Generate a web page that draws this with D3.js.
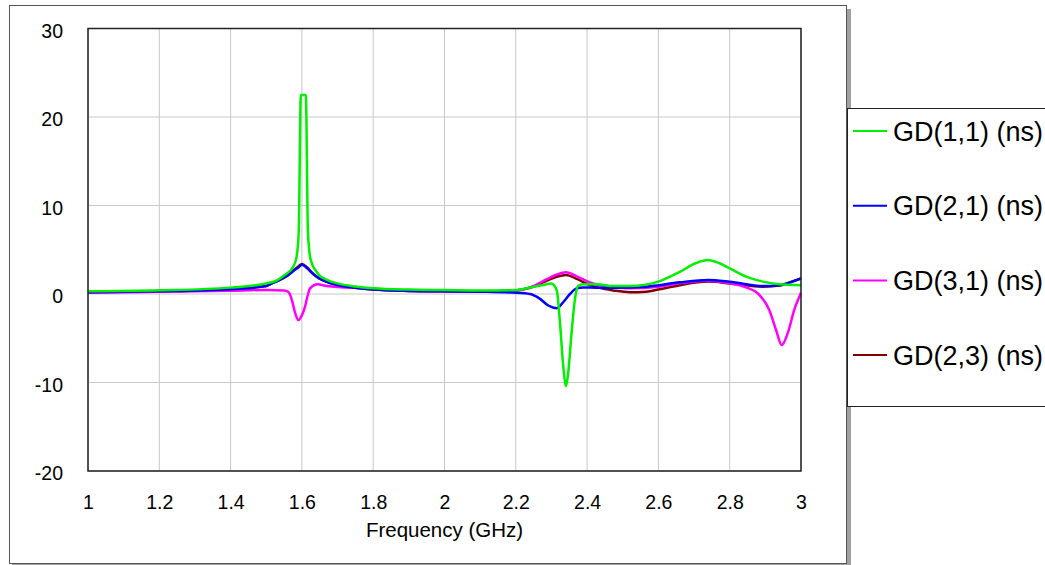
<!DOCTYPE html>
<html>
<head>
<meta charset="utf-8">
<script src="https://cdn.jsdelivr.net/npm/d3@7"></script>
<style>
  body { margin: 0; background: #fff; }
  svg { display: block; font-family: "Liberation Sans", Arial, sans-serif; }
  .grid line { stroke: #c8c8c8; stroke-width: 1; }
  .tick text { fill: #000; }
</style>
</head>
<body>
<svg width="1045" height="565"></svg>
<script>
// tick labels
var xTicks = [1, 1.2, 1.4, 1.6, 1.8, 2, 2.2, 2.4, 2.6, 2.8, 3];
var yTicks = [-20, -10, 0, 10, 20, 30];

// GD(1,1) (ns)
var f11 = [1.0, 1.2, 1.4, 1.5, 1.53, 1.55, 1.576, 1.585, 1.591, 1.597, 1.611, 1.617, 1.625, 1.645, 1.67, 1.7, 1.75, 1.8, 1.9, 2.0, 2.1, 2.2, 2.24, 2.287, 2.3, 2.315, 2.324, 2.333, 2.341, 2.347, 2.357, 2.366, 2.375, 2.389, 2.427, 2.473, 2.52, 2.6, 2.66, 2.706, 2.739, 2.77, 2.8, 2.846, 2.893, 2.94, 3.0];
var gd11 = [0.3, 0.41, 0.72, 1.2, 1.55, 2.1, 3.1, 4.2, 6.9, 22.5, 22.5, 6.9, 3.8, 2.3, 1.6, 1.2, 0.85, 0.65, 0.5, 0.45, 0.4, 0.45, 0.74, 1.1, 1.2, 0.4, -3.3, -8.1, -10.4, -8.9, -4.1, -0.55, 0.93, 1.1, 1.1, 0.9, 0.9, 1.4, 2.5, 3.5, 3.84, 3.5, 2.9, 1.96, 1.4, 1.09, 1.0];

// GD(2,1) (ns)
var f21 = [1.0, 1.2, 1.4, 1.5, 1.51, 1.538, 1.557, 1.576, 1.59, 1.6, 1.615, 1.63, 1.647, 1.675, 1.7, 1.75, 1.8, 1.9, 2.0, 2.1, 2.2, 2.24, 2.268, 2.291, 2.315, 2.333, 2.352, 2.371, 2.389, 2.427, 2.473, 2.566, 2.66, 2.739, 2.8, 2.893, 2.94, 2.977, 3.0];
var gd21 = [0.2, 0.3, 0.55, 0.9, 1.1, 1.6, 2.0, 2.6, 3.0, 3.3, 2.9, 2.3, 1.8, 1.3, 1.0, 0.7, 0.5, 0.35, 0.3, 0.26, 0.15, 0.0, -0.55, -1.3, -1.6, -0.93, 0.0, 0.63, 0.74, 0.72, 0.72, 0.83, 1.32, 1.58, 1.39, 0.9, 1.0, 1.4, 1.77];

// GD(3,1) (ns)
var f31 = [1.0, 1.2, 1.4, 1.5, 1.55, 1.563, 1.572, 1.58, 1.59, 1.6, 1.609, 1.616, 1.623, 1.644, 1.67, 1.77, 1.9, 2.0, 2.1, 2.2, 2.24, 2.287, 2.315, 2.341, 2.371, 2.408, 2.473, 2.52, 2.6, 2.66, 2.739, 2.8, 2.846, 2.883, 2.911, 2.93, 2.946, 2.963, 2.981, 3.0];
var gd31 = [0.15, 0.25, 0.38, 0.45, 0.4, 0.2, -0.7, -2.0, -2.95, -2.4, -1.4, -0.2, 0.64, 1.1, 0.9, 0.64, 0.4, 0.3, 0.3, 0.4, 0.74, 1.67, 2.2, 2.45, 2.0, 1.3, 0.8, 0.64, 0.83, 1.2, 1.5, 1.2, 0.75, -0.1, -1.8, -4.07, -5.76, -4.4, -1.8, 0.15];

// GD(2,3) (ns)
var f23 = [1.0, 1.2, 1.4, 1.5, 1.51, 1.538, 1.557, 1.576, 1.59, 1.6, 1.615, 1.63, 1.647, 1.675, 1.7, 1.75, 1.8, 1.9, 2.0, 2.1, 2.2, 2.24, 2.287, 2.315, 2.341, 2.371, 2.408, 2.45, 2.473, 2.52, 2.566, 2.6, 2.66, 2.739, 2.8, 2.893, 2.94, 2.977, 3.0];
var gd23 = [0.2, 0.3, 0.55, 0.9, 1.1, 1.6, 2.05, 2.65, 3.1, 3.4, 3.0, 2.35, 1.8, 1.3, 1.0, 0.7, 0.5, 0.35, 0.3, 0.3, 0.4, 0.7, 1.5, 1.95, 2.15, 1.7, 1.0, 0.55, 0.4, 0.2, 0.26, 0.5, 1.0, 1.4, 1.2, 0.83, 0.95, 1.45, 1.75];

var names = ["GD(1,1) (ns)", "GD(2,1) (ns)", "GD(3,1) (ns)", "GD(2,3) (ns)"];
var colors = ["#00f000", "#0000ff", "#ff00ff", "#800000"];

var svg = d3.select("svg");

var x = d3.scaleLinear().domain([1, 3]).range([88, 801]);
var y = d3.scaleLinear().domain([-20, 30]).range([471, 28.5]);

// outer frame with shadow
svg.append("rect").attr("x", 12).attr("y", 9).attr("width", 839).attr("height", 560).attr("fill", "#a0a0a0");
svg.append("rect").attr("x", 9.5).attr("y", 5.5).attr("width", 837).attr("height", 558)
    .attr("fill", "#fff").attr("stroke", "#555").attr("stroke-width", 1);

// grid
svg.append("g").attr("class", "grid")
  .selectAll("line").data(xTicks).enter().append("line")
    .attr("x1", function(d) { return x(d); }).attr("x2", function(d) { return x(d); })
    .attr("y1", y(30)).attr("y2", y(-20));
svg.append("g").attr("class", "grid")
  .selectAll("line").data(yTicks).enter().append("line")
    .attr("x1", x(1)).attr("x2", x(3))
    .attr("y1", function(d) { return y(d); }).attr("y2", function(d) { return y(d); });

// axes (labels only)
var xAxis = svg.append("g")
    .attr("transform", "translate(0," + y(-20) + ")")
    .call(d3.axisBottom(x).tickValues(xTicks).tickSize(0).tickPadding(24).tickFormat(function(d) { return d; }));
xAxis.select(".domain").remove();
xAxis.selectAll("text").attr("font-size", 19.5).attr("font-family", "Liberation Sans, Arial, sans-serif");

var yAxis = svg.append("g")
    .attr("transform", "translate(63,0)")
    .call(d3.axisLeft(y).tickValues(yTicks).tickSize(0).tickPadding(0).tickFormat(function(d) { return d; }));
yAxis.select(".domain").remove();
yAxis.selectAll("text").attr("font-size", 19.5).attr("dy", "0.45em").attr("font-family", "Liberation Sans, Arial, sans-serif");

svg.append("text")
    .attr("x", (x(1) + x(3)) / 2).attr("y", 537)
    .attr("text-anchor", "middle").attr("font-size", 20.5)
    .text("Frequency (GHz)");

// curves
var line = d3.line()
    .x(function(d) { return x(d[0]); })
    .y(function(d) { return y(d[1]); })
    .curve(d3.curveMonotoneX);

var series = [
  { f: f23, v: gd23, c: colors[3] },
  { f: f31, v: gd31, c: colors[2] },
  { f: f21, v: gd21, c: colors[1] },
  { f: f11, v: gd11, c: colors[0] }
];

svg.append("g")
  .selectAll("path").data(series).enter().append("path")
    .attr("fill", "none")
    .attr("stroke", function(d) { return d.c; })
    .attr("stroke-width", 2.5)
    .attr("stroke-linejoin", "round")
    .attr("d", function(d) { return line(d.f.map(function(f, i) { return [f, d.v[i]]; })); });

// plot frame
svg.append("rect")
    .attr("x", x(1)).attr("y", y(30))
    .attr("width", x(3) - x(1)).attr("height", y(-20) - y(30))
    .attr("fill", "none").attr("stroke", "#222").attr("stroke-width", 1.5);

// legend
var legend = svg.append("g");
legend.append("rect")
    .attr("x", 847.5).attr("y", 108.5).attr("width", 220).attr("height", 298)
    .attr("fill", "#fff").attr("stroke", "#222").attr("stroke-width", 1);

var item = legend.selectAll("g.item").data(names).enter().append("g")
    .attr("class", "item")
    .attr("transform", function(d, i) { return "translate(0," + (131 + i * 74.7) + ")"; });
item.append("line")
    .attr("x1", 853).attr("x2", 887)
    .attr("stroke", function(d, i) { return colors[i]; })
    .attr("stroke-width", 2);
item.append("text")
    .attr("x", 893).attr("dy", "0.36em")
    .attr("font-size", 27)
    .text(function(d) { return d; });
</script>
</body>
</html>
